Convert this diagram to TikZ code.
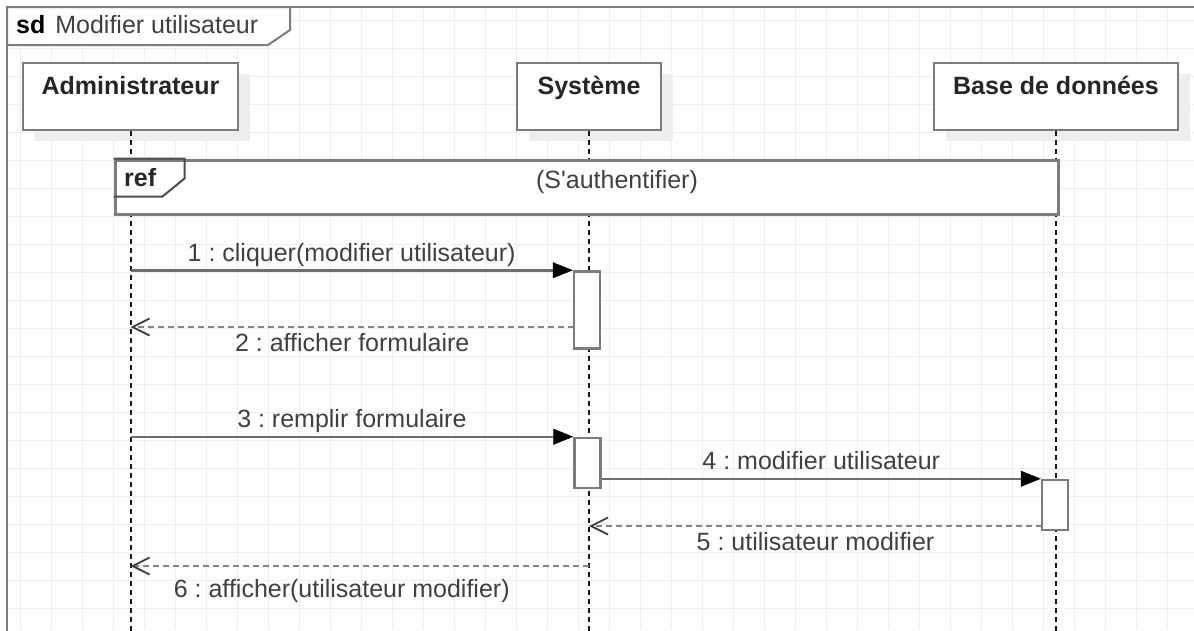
\documentclass[tikz,border=0pt]{standalone}
\usepackage{fontspec}
\setmainfont{Liberation Sans}
\usetikzlibrary{arrows.meta}
\usetikzlibrary{shadows}
\frenchspacing

\definecolor{gridgray}{HTML}{EFEFEF}
\definecolor{boxgray}{HTML}{7C7C7C}
\definecolor{shadegray}{HTML}{EEEEEE}
\definecolor{inkgray}{HTML}{404040}
\definecolor{linegray}{HTML}{6E6E6E}

\newcommand\diagfont{\fontsize{25}{30}\selectfont}

\tikzset{
  gridline/.style={draw=gridgray, line width=1.5pt},
  frameline/.style={draw=boxgray, line width=2.5pt},
  lifebox/.style={draw=boxgray, fill=white, line width=2.5pt, font=\diagfont\bfseries, text=black!85,
    text height=31pt, text depth=36pt,
    copy shadow={shadow xshift=12pt, shadow yshift=-11pt, draw=none, fill=shadegray}},
  lifeline/.style={draw=black!90, line width=2pt, dash pattern=on 5pt off 4pt},
  actbox/.style={draw=boxgray, fill=white, line width=2.5pt, minimum width=26pt},
  call/.style={draw=linegray, line width=2.5pt, -{Triangle[length=20pt, width=16pt, line width=0.5pt, color=black]}},
  reply/.style={draw=linegray!85, line width=2.5pt, dash pattern=on 6pt off 4pt,
    -{Straight Barb[length=17pt, width=17pt, line width=1.8pt, color=inkgray]}},
  msgtext/.style={text=inkgray, anchor=base}
}

\begin{document}
\begin{tikzpicture}[x=1pt, y=-1pt, font=\diagfont, every node/.style={inner sep=0pt}]
\useasboundingbox [fill=white] (0,0) rectangle (1194,630);

% background grid
\foreach \gx in {0,...,37}
  \draw[gridline] ({20.7+31*\gx},7) -- ({20.7+31*\gx},630);
\foreach \gy in {0,...,21}
  \draw[gridline] (7,{20.7+28*\gy}) -- (1194,{20.7+28*\gy});

% sd frame
\draw[frameline] (1200,7) -- (7,7) -- (7,640);
\filldraw[fill=white, draw=boxgray, line width=2pt] (7,7) -- (290,7) -- (290,30) -- (268,45) -- (7,45) -- cycle;
\node[anchor=base west, text=inkgray] (sdtitle) at (16,33) {\textcolor{black}{\textbf{sd}}\hspace{10pt}Modifier utilisateur};

% participants
\node[lifebox, minimum width=215pt] (admin) at (130.5,96.5) {Administrateur};
\node[lifebox, minimum width=144pt] (sys) at (589,96.5) {Système};
\node[lifebox, minimum width=244pt] (db) at (1056,96.5) {Base de données};

\coordinate (bot) at (0,640);
\draw[lifeline] (admin.south) -- (admin.south |- bot);
\draw[lifeline] (sys.south) -- (sys.south |- bot);
\draw[lifeline] (db.south) -- (db.south |- bot);

% ref fragment
\node[draw=boxgray, fill=white, line width=3pt, minimum width=943pt, minimum height=54pt] (ref) at (586.5,187) {};
\draw[draw=black!70, line width=2pt] (ref.north west) -- ++(71,0) -- ++(0,20) -- ++(-22,18) -- ++(-49,0);
\node[anchor=base west, font=\diagfont\bfseries, text=black!85] (reftag) at (124,186) {ref};
\node[anchor=base, text=inkgray] (refname) at (617,188) {(S\textquotesingle authentifier)};

% activations
\node[actbox, minimum height=77pt] (act1) at (587,310) {};
\node[actbox, minimum height=50pt] (act2) at (587.5,463) {};
\node[actbox, minimum height=50pt] (act3) at (1055,505) {};

% messages
\draw[call] (admin |- act1.north) -- (act1.north west)
  node[msgtext, midway, yshift=9pt] (m1) {1 : cliquer(modifier utilisateur)};
\coordinate (r2) at (574,327);
\draw[reply] (r2) -- (admin |- r2)
  node[msgtext, midway, yshift=-24pt] (m2) {2 : afficher formulaire};
\draw[call] (admin |- act2.north) -- (act2.north west)
  node[msgtext, midway, yshift=9pt] (m3) {3 : remplir formulaire};
\draw[call] (act2.east |- act3.north) -- (act3.north west)
  node[msgtext, midway, yshift=9pt] (m4) {4 : modifier utilisateur};
\coordinate (r5) at (1042,526);
\draw[reply] (r5) -- (sys |- r5)
  node[msgtext, midway, yshift=-24pt] (m5) {5 : utilisateur modifier};
\coordinate (r6) at (589,566);
\draw[reply] (r6) -- (admin |- r6)
  node[msgtext, midway, xshift=-18pt, yshift=-31pt] (m6) {6 : afficher(utilisateur modifier)};
\end{tikzpicture}
\end{document}
